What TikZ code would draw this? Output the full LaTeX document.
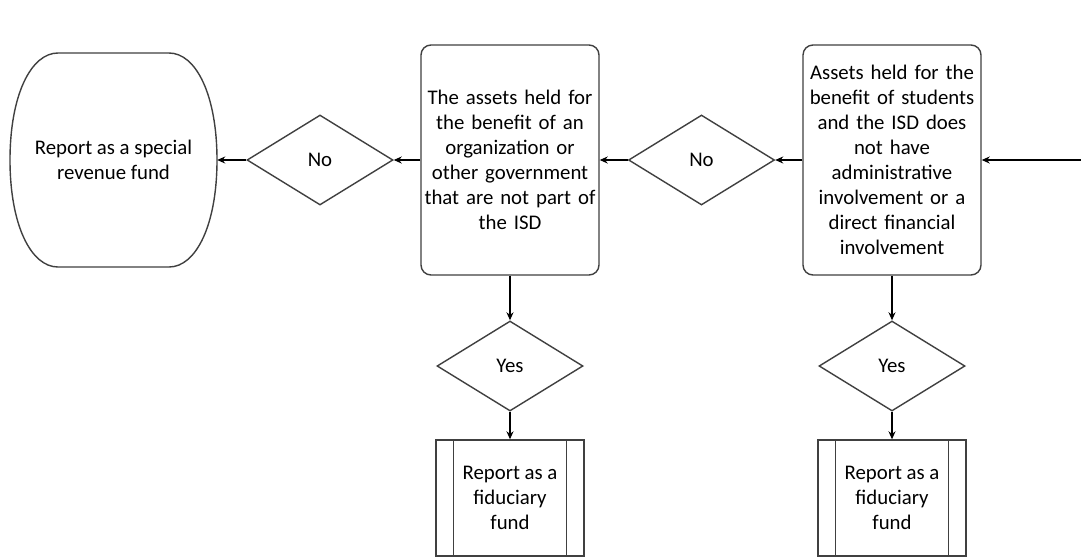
\documentclass[tikz,border=0pt]{standalone}
\usepackage{fontspec}
\setmainfont{Carlito}
\usetikzlibrary{shapes.geometric,arrows.meta}
\begin{document}
\begin{tikzpicture}[x=1pt,y=-1pt,
  every node/.style={font=\fontsize{20.8}{25}\selectfont, text=black},
  shapeline/.style={draw=black!75, line width=1.4pt},
  question/.style={shapeline, rounded corners=10pt, minimum width=178pt, minimum height=230pt, align=center, text width=172pt, inner sep=0pt},
  decision/.style={shapeline, diamond, aspect=1.61, minimum width=146pt, minimum height=90pt, inner sep=0pt},
  outcome/.style={shapeline, rectangle, minimum width=148pt, minimum height=116pt, align=center, inner sep=0pt},
  flow/.style={draw=black, line width=1.4pt, -{Stealth[length=8pt,width=7pt]}}
]
\useasboundingbox (0,0) rectangle (1081,558);
\fill[white] (0,0) rectangle (1081,558);

% terminal
\node[minimum width=207pt, minimum height=214pt, inner sep=0pt, align=center] (term) at (113.5,160) {Report as a special\\revenue fund};
\draw[shapeline] (58,53) -- (169,53)
  .. controls (196,53) and (217,95) .. (217,160)
  .. controls (217,225) and (196,267) .. (169,267)
  -- (58,267)
  .. controls (31,267) and (10,225) .. (10,160)
  .. controls (10,95) and (31,53) .. (58,53) -- cycle;

\node[decision] (d1) at (320,160) {No};
\node[question] (q2) at (510,160) {The assets held for\\the benefit of an\\organization or\\other government\\that are not part of\\the ISD};
\node[decision] (d2) at (701.5,160) {No};
\node[question] (q3) at (892,160) {Assets held for the\\benefit of students\\and the ISD does\\not have\\administrative\\involvement or a\\direct financial\\involvement};

\node[decision] (y2) at (510,366) {Yes};
\node[decision] (y3) at (892,366) {Yes};

\node[outcome] (f2) at (510,498) {Report as a\\fiduciary\\fund};
\node[outcome] (f3) at (892,498) {Report as a\\fiduciary\\fund};
\foreach \f in {f2,f3} {
  \draw[shapeline] ([xshift=18pt]\f.north west) -- ([xshift=18pt]\f.south west);
  \draw[shapeline] ([xshift=-18pt]\f.north east) -- ([xshift=-18pt]\f.south east);
}

\coordinate (start) at (1081,160);
\draw[flow] (start) -- (q3.east);
\draw[flow] (q3.west) -- (d2.east);
\draw[flow] (d2.west) -- (q2.east);
\draw[flow] (q2.west) -- (d1.east);
\draw[flow] (d1.west) -- (term.east);
\draw[flow] (q2.south) -- (y2.north);
\draw[flow] (y2.south) -- (f2.north);
\draw[flow] (q3.south) -- (y3.north);
\draw[flow] (y3.south) -- (f3.north);
\end{tikzpicture}
\end{document}
